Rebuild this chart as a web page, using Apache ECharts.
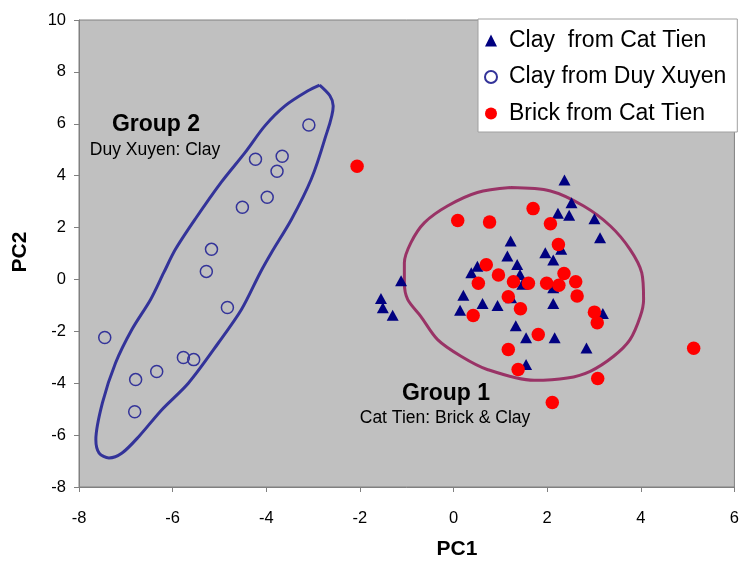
<!DOCTYPE html>
<html>
<head>
<meta charset="utf-8">
<script src="https://cdn.jsdelivr.net/npm/echarts@6/dist/echarts.min.js"></script>
<style>
html,body{margin:0;padding:0;background:#fff;}
#chart{width:742px;height:565px;}
</style>
</head>
<body>
<div id="chart"></div>
<script>
// ---- Data ----
const clayCatTien = [
  [-1.12,-0.05],[-1.55,-0.73],[-1.51,-1.09],[-1.30,-1.38],
  [0.21,-0.61],[0.14,-1.19],[0.62,-0.93],[0.94,-1.00],[1.23,-0.71],
  [0.38,0.26],[0.51,0.51],[1.22,1.48],[1.15,0.90],[1.36,0.58],
  [1.42,0.19],[1.47,-0.19],[1.33,-1.78],[1.55,-2.25],[1.55,-3.28],
  [2.16,-2.25],[1.96,1.03],[2.13,0.75],[2.30,1.16],[2.13,-0.32],
  [2.13,-0.93],[2.37,3.83],[2.52,2.96],[2.23,2.55],[2.47,2.47],
  [3.01,2.34],[3.13,1.61],[3.19,-1.31],[2.84,-2.64]
];
const clayDuyXuyen = [
  [-7.45,-2.24],[-6.79,-3.86],[-6.81,-5.10],[-6.34,-3.55],[-5.77,-3.01],
  [-5.55,-3.09],[-4.83,-1.08],[-5.28,0.31],[-5.17,1.16],[-4.51,2.78],
  [-3.98,3.17],[-4.23,4.63],[-3.77,4.17],[-3.66,4.75],[-3.09,5.95]
];
const brickCatTien = [
  [-2.06,4.36],[0.09,2.27],[0.77,2.21],[1.70,2.73],[2.07,2.15],[2.24,1.35],
  [0.70,0.57],[0.96,0.17],[0.53,-0.15],[1.28,-0.09],[1.60,-0.15],[1.17,-0.67],
  [1.99,-0.15],[2.25,-0.22],[2.36,0.23],[2.61,-0.09],[2.64,-0.64],[1.43,-1.13],
  [3.01,-1.26],[3.07,-1.67],[1.81,-2.12],[1.38,-3.47],[3.08,-3.82],[2.11,-4.74],
  [5.13,-2.65],[0.42,-1.39],[1.17,-2.70]
];
// hand-drawn group outlines
const group2Outline = [
  [-2.86,7.49],[-2.64,7.08],[-2.57,6.69],[-2.75,5.41],[-3.04,3.86],[-3.46,2.32],
  [-3.89,1.03],[-4.13,0.26],[-4.53,-1.16],[-5.02,-2.44],[-5.66,-3.99],[-6.23,-5.02],
  [-6.72,-6.05],[-7.08,-6.69],[-7.36,-6.88],[-7.57,-6.69],[-7.64,-6.18],[-7.50,-4.76],
  [-7.22,-3.22],[-6.87,-1.93],[-6.47,-0.77],[-6.19,0.26],[-5.94,1.16],[-5.52,2.32],
  [-4.96,3.75],[-4.45,4.90],[-4.03,5.92],[-3.60,6.69],[-3.11,7.27],[-2.86,7.49]
];
const group1Outline = [
  [1.22,3.54],[2.07,3.41],[2.78,2.83],[3.35,2.06],[3.77,1.16],[4.02,0.26],
  [4.06,-0.77],[3.99,-1.42],[3.77,-2.32],[3.42,-2.96],[2.92,-3.54],[2.43,-3.80],
  [1.72,-3.89],[0.72,-3.47],[0.16,-2.96],[-0.34,-2.32],[-0.70,-1.42],[-0.98,-0.77],
  [-1.05,-0.13],[-1.05,0.64],[-0.91,1.42],[-0.62,2.19],[-0.13,2.83],[0.51,3.35],[1.22,3.54]
];
const seriesNames = ['Clay  from Cat Tien','Clay from Duy Xuyen','Brick from Cat Tien'];
const xTicks = {min:-8, max:6, interval:2};
const yTicks = {min:-8, max:10, interval:2};

const chart = echarts.init(document.getElementById('chart'), null, {renderer:'canvas'});
const FONT = '"Liberation Sans", Arial, sans-serif';

chart.setOption({
  animation:false,
  backgroundColor:'#ffffff',
  textStyle:{fontFamily:FONT},
  grid:{left:79, right:5, top:20, bottom:78, show:true, backgroundColor:'#c0c0c0',
        borderColor:'#808080', borderWidth:1, containLabel:false},
  xAxis:{type:'value', min:xTicks.min, max:xTicks.max, interval:xTicks.interval,
    splitLine:{show:false},
    axisLine:{onZero:false, lineStyle:{color:'#808080', width:1}},
    axisTick:{show:true, length:5, lineStyle:{color:'#808080'}},
    axisLabel:{color:'#000', fontSize:16.5, margin:23, fontFamily:FONT}},
  yAxis:{type:'value', min:yTicks.min, max:yTicks.max, interval:yTicks.interval,
    splitLine:{show:false},
    axisLine:{onZero:false, lineStyle:{color:'#808080', width:1}},
    axisTick:{show:true, length:5, lineStyle:{color:'#808080'}},
    axisLabel:{color:'#000', fontSize:16.5, margin:13, fontFamily:FONT}},
  legend:{
    data:[
      {name:seriesNames[0], icon:'triangle'},
      {name:seriesNames[1], icon:'circle'},
      {name:seriesNames[2], icon:'circle'}
    ],
    orient:'vertical', left:478, top:19,
    backgroundColor:'#ffffff', borderColor:'#a0a0a0', borderWidth:1,
    padding:[10, 11, 7, 6], itemGap:13.5, itemWidth:12, itemHeight:12,
    textStyle:{fontSize:23, color:'#000', fontFamily:FONT, padding:[0,0,0,7]}
  },
  series:[
    {type:'line', name:'g2', data:group2Outline, showSymbol:false, smooth:0.3,
     lineStyle:{color:'#333399', width:3}, z:1, silent:true},
    {type:'line', name:'g1', data:group1Outline, showSymbol:false, smooth:0.3,
     lineStyle:{color:'#993366', width:3}, z:1, silent:true},
    {type:'scatter', name:seriesNames[0], data:clayCatTien, symbol:'triangle', symbolSize:[12,11],
     itemStyle:{color:'#000080', opacity:1}, z:3},
    {type:'scatter', name:seriesNames[1], data:clayDuyXuyen, symbol:'circle', symbolSize:12,
     itemStyle:{color:'rgba(0,0,0,0)', borderColor:'#333399', borderWidth:1.5, opacity:1}, z:4},
    {type:'scatter', name:seriesNames[2], data:brickCatTien, symbol:'circle', symbolSize:13.5,
     itemStyle:{color:'#ff0000', opacity:1}, z:5}
  ],
  graphic:[
    {type:'text', style:{text:'Group 2', font:'bold 23px '+FONT, fill:'#000', textAlign:'center', textVerticalAlign:'middle'}, x:156, y:125},
    {type:'text', style:{text:'Duy Xuyen: Clay', font:'17.5px '+FONT, fill:'#000', textAlign:'center', textVerticalAlign:'middle'}, x:155, y:150},
    {type:'text', style:{text:'Group 1', font:'bold 23px '+FONT, fill:'#000', textAlign:'center', textVerticalAlign:'middle'}, x:446, y:394},
    {type:'text', style:{text:'Cat Tien: Brick & Clay', font:'17.5px '+FONT, fill:'#000', textAlign:'center', textVerticalAlign:'middle'}, x:445, y:418},
    {type:'text', style:{text:'PC1', font:'bold 21px '+FONT, fill:'#000', textAlign:'center', textVerticalAlign:'middle'}, x:457, y:549},
    {type:'text', style:{text:'PC2', font:'bold 21px '+FONT, fill:'#000', textAlign:'center', textVerticalAlign:'middle'}, x:20, y:252, rotation:Math.PI/2}
  ]
});
</script>
</body>
</html>
